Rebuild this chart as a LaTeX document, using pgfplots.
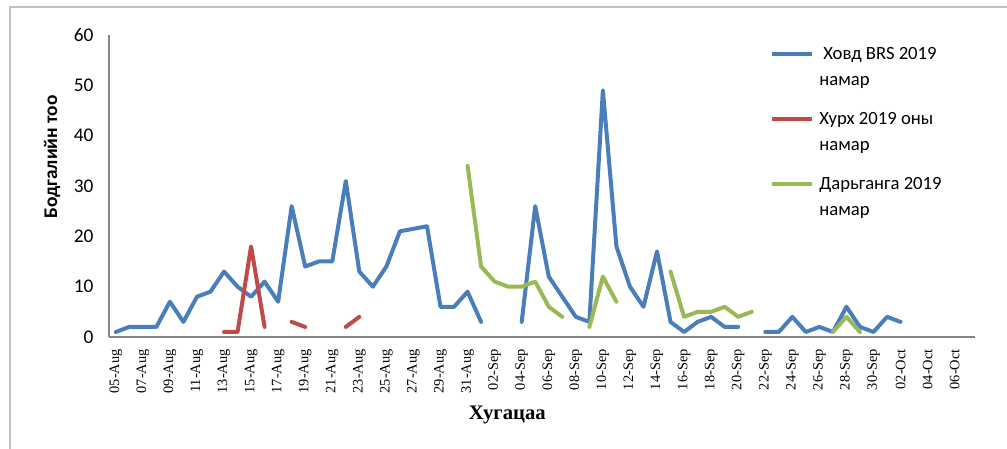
\documentclass[border=0pt]{standalone}
\usepackage{fontspec}
\setmainfont{Liberation Serif}
\newfontfamily\calibri{Carlito}
\usepackage{pgfplots}
\pgfplotsset{compat=1.18}
\definecolor{sblue}{HTML}{4A7EBB}
\definecolor{sred}{HTML}{BE4B48}
\definecolor{sgreen}{HTML}{98B954}
\definecolor{axgray}{HTML}{868686}
\begin{document}
\begin{tikzpicture}[x=1pt,y=1pt]
\useasboundingbox (0,0) rectangle (755.25,336.75);
\draw[black!25, line width=1.2pt] (7.5,0) -- (7.5,331.5) -- (755.25,331.5);
\begin{axis}[
  at={(81.75pt,84pt)}, anchor=south west,
  scale only axis, width=649.5pt, height=226.5pt,
  xmin=-0.5, xmax=63.5, ymin=0, ymax=60,
  axis x line*=bottom, axis y line*=left,
  every non boxed x axis/.append style={x axis line style={-}},
  every non boxed y axis/.append style={y axis line style={-}},
  axis line style={draw=axgray, line width=0.9pt},
  major tick length=0pt,
  /pgf/number format/assume math mode=true,
  xtick={0,2,...,62},
  xticklabels={05-Aug,07-Aug,09-Aug,11-Aug,13-Aug,15-Aug,17-Aug,19-Aug,21-Aug,23-Aug,25-Aug,27-Aug,29-Aug,31-Aug,02-Sep,04-Sep,06-Sep,08-Sep,10-Sep,12-Sep,14-Sep,16-Sep,18-Sep,20-Sep,22-Sep,24-Sep,26-Sep,28-Sep,30-Sep,02-Oct,04-Oct,06-Oct},
  xticklabel style={rotate=90, anchor=east, font=\fontsize{10.8}{12}\selectfont, inner sep=0pt},
  xticklabel shift=9pt,
  ytick={0,10,...,60},
  yticklabel style={font=\calibri\fontsize{14.5}{14.5}\selectfont, inner sep=0pt},
  yticklabel shift=11.5pt,
  xlabel={Хугацаа},
  x label style={at={(rel axis cs:0.46,0)}, anchor=center, yshift=-58.5pt, font=\bfseries\fontsize{15.5}{16}\selectfont},
  ylabel={Бодгалийн тоо},
  y label style={at={(rel axis cs:0,0.596)}, anchor=center, yshift=42.75pt, font=\calibri\bfseries\fontsize{14.5}{15}\selectfont},
  unbounded coords=jump,
  legend style={at={(rel axis cs:0.763,0.98)}, anchor=north west, draw=none, fill=none,
    font=\calibri\fontsize{14}{19.5}\selectfont, cells={anchor=base west},
    row sep=33.75pt, column sep=4pt, inner sep=0pt, nodes={inner sep=0pt}},
  legend image code/.code={\draw[#1,line cap=butt] (0pt,4.5pt) -- (30pt,4.5pt);},
  every axis plot/.append style={line width=3pt, line join=round, line cap=round},
]
\addplot[sblue] coordinates {
(0,1)(1,2)(2,2)(3,2)(4,7)(5,3)(6,8)(7,9)(8,13)(9,10)(10,8)(11,11)(12,7)(13,26)(14,14)(15,15)(16,15)(17,31)(18,13)(19,10)(20,14)(21,21)(23,22)(24,6)(25,6)(26,9)(27,3)(28,nan)(30,3)(31,26)(32,12)(33,8)(34,4)(35,3)(36,49)(37,18)(38,10)(39,6)(40,17)(41,3)(42,1)(43,3)(44,4)(45,2)(46,2)(47,nan)(48,1)(49,1)(50,4)(51,1)(52,2)(53,1)(54,6)(55,2)(56,1)(57,4)(58,3)
};
\addlegendentry{\parbox[t]{4.5cm}{\strut\hspace{3pt}Ховд BRS 2019\\намар\strut}}
\addplot[sred] coordinates {
(8,1)(9,1)(10,18)(11,2)(12,nan)(13,3)(14,2)(15,nan)(17,2)(18,4)
};
\addlegendentry{\parbox[t]{4.5cm}{\strut Хурх 2019 оны\\намар\strut}}
\addplot[sgreen] coordinates {
(26,34)(27,14)(28,11)(29,10)(30,10)(31,11)(32,6)(33,4)(34,nan)(35,2)(36,12)(37,7)(38,nan)(41,13)(42,4)(43,5)(44,5)(45,6)(46,4)(47,5)(48,nan)(53,1)(54,4)(55,1)
};
\addlegendentry{\parbox[t]{4.5cm}{\strut Дарьганга 2019\\намар\strut}}
\end{axis}
\end{tikzpicture}
\end{document}
